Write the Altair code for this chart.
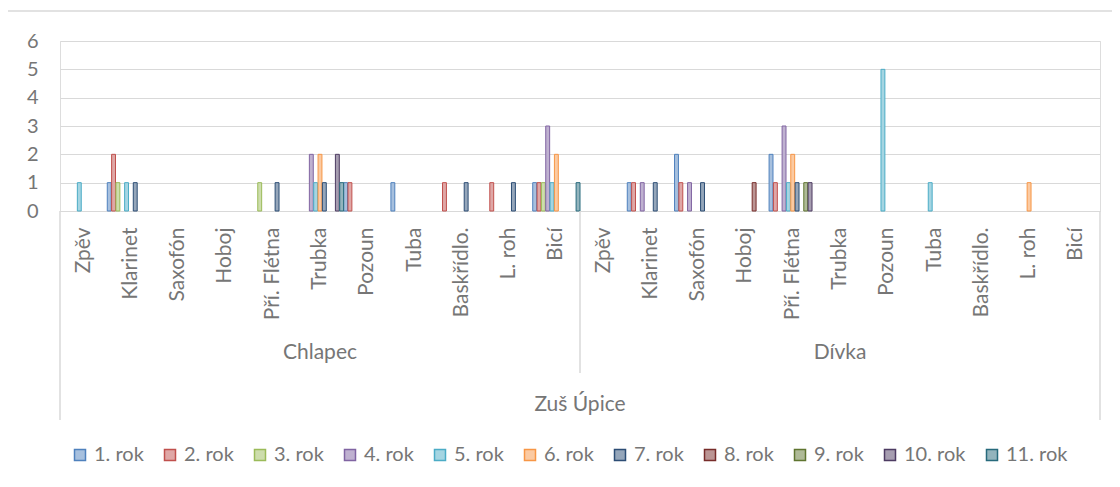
import altair as alt
import pandas as pd

groups = ["Chlapec", "Dívka"]
instruments = ["Zpěv", "Klarinet", "Saxofón", "Hoboj", "Pří. Flétna", "Trubka",
               "Pozoun", "Tuba", "Baskřídlo.", "L. roh", "Bicí"]
school = "Zuš Úpice"
series = ["1. rok", "2. rok", "3. rok", "4. rok", "5. rok", "6. rok",
          "7. rok", "8. rok", "9. rok", "10. rok", "11. rok"]

# values per series: 11 Chlapec instruments followed by 11 Dívka instruments
rok1 = [0, 1, 0, 0, 0, 0, 1, 1, 0, 0, 1,   0, 1, 2, 0, 2, 0, 0, 0, 0, 0, 0]
rok2 = [0, 2, 0, 0, 0, 0, 1, 0, 1, 1, 1,   0, 1, 1, 0, 1, 0, 0, 0, 0, 0, 0]
rok3 = [0, 1, 0, 0, 1, 0, 0, 0, 0, 0, 1,   0, 0, 0, 0, 0, 0, 0, 0, 0, 0, 0]
rok4 = [0, 0, 0, 0, 0, 2, 0, 0, 0, 0, 3,   0, 1, 1, 0, 3, 0, 0, 0, 0, 0, 0]
rok5 = [1, 1, 0, 0, 0, 1, 0, 0, 0, 0, 1,   0, 0, 0, 0, 1, 0, 5, 1, 0, 0, 0]
rok6 = [0, 0, 0, 0, 0, 2, 0, 0, 0, 0, 2,   0, 0, 0, 0, 2, 0, 0, 0, 0, 1, 0]
rok7 = [0, 1, 0, 0, 1, 1, 0, 0, 1, 1, 0,   0, 1, 1, 0, 1, 0, 0, 0, 0, 0, 0]
rok8 = [0, 0, 0, 0, 0, 0, 0, 0, 0, 0, 0,   0, 0, 0, 1, 0, 0, 0, 0, 0, 0, 0]
rok9 = [0, 0, 0, 0, 0, 0, 0, 0, 0, 0, 0,   0, 0, 0, 0, 1, 0, 0, 0, 0, 0, 0]
rok10 = [0, 0, 0, 0, 0, 2, 0, 0, 0, 0, 0,  0, 0, 0, 0, 1, 0, 0, 0, 0, 0, 0]
rok11 = [0, 0, 0, 0, 0, 1, 0, 0, 0, 0, 1,  0, 0, 0, 0, 0, 0, 0, 0, 0, 0, 0]
all_values = [rok1, rok2, rok3, rok4, rok5, rok6, rok7, rok8, rok9, rok10, rok11]

dark = ["#4F81BD", "#C0504D", "#9BBB59", "#8064A2", "#4BACC6", "#F79646",
        "#2C4D75", "#772C2A", "#5F7530", "#4D3B62", "#276A7C"]


def lighten(h, t=0.5):
    r, g, b = int(h[1:3], 16), int(h[3:5], 16), int(h[5:7], 16)
    r, g, b = [int(c + (255 - c) * t) for c in (r, g, b)]
    return "#%02x%02x%02x" % (r, g, b)


light = [lighten(c, 0.5) for c in dark]

keys = [g + "|" + i for g in groups for i in instruments]
rows = []
for s, vals in zip(series, all_values):
    for k, v in zip(keys, vals):
        if v > 0:
            rows.append({"key": k, "series": s, "value": v})
df = pd.DataFrame(rows)

W, H = 1040, 170
PAD_R = 12
GRAY = "#767676"
GRID = "#d9d9d9"
FONT = "Lato"

xscale = alt.Scale(domain=keys, paddingInner=0, paddingOuter=0)
xaxis = alt.Axis(title=None, labelAngle=270, labelAlign="right", labelBaseline="middle",
                 labelExpr="split(datum.label, '|')[1]", labelFontSize=21,
                 labelColor=GRAY, labelFont=FONT, labelPadding=16, ticks=False,
                 domainColor=GRID, labelOverlap=False)

legend = alt.Legend(title=None, orient="none", legendX=10, legendY=404,
                    direction="horizontal", columns=11, symbolType="square",
                    symbolSize=121, symbolStrokeWidth=1.5, labelFontSize=20,
                    labelColor=GRAY, labelFont=FONT, columnPadding=16, labelOffset=4)

bars = alt.Chart(df).mark_bar(strokeWidth=1).encode(
    x=alt.X("key:N", scale=xscale, sort=keys, axis=xaxis),
    xOffset=alt.XOffset("series:N", scale=alt.Scale(domain=series, paddingInner=0.1, paddingOuter=0)),
    y=alt.Y("value:Q", scale=alt.Scale(domain=[0, 6]),
            axis=alt.Axis(title=None, values=[0, 1, 2, 3, 4, 5, 6], grid=True, gridColor=GRID,
                          domain=False, ticks=False, labelFontSize=20, labelColor=GRAY,
                          labelFont=FONT, labelPadding=22)),
    fill=alt.Fill("series:N", scale=alt.Scale(domain=series, range=light), legend=legend),
    stroke=alt.Stroke("series:N", scale=alt.Scale(domain=series, range=dark), legend=legend),
)

grp_df = pd.DataFrame({"key": [g + "|" + instruments[5] for g in groups], "label": groups})
grp_text = alt.Chart(grp_df).mark_text(fontSize=21, color=GRAY, font=FONT, baseline="middle").encode(
    x=alt.X("key:N", scale=xscale, sort=keys, axis=xaxis),
    y=alt.value(312),
    text="label:N",
)

school_df = pd.DataFrame({"label": [school]})
school_text = alt.Chart(school_df).mark_text(fontSize=21, color=GRAY, font=FONT, baseline="middle").encode(
    x=alt.value(W / 2), y=alt.value(364), text="label:N")

sep_left = alt.Chart(pd.DataFrame({"key": [keys[0]]})).mark_rule(color=GRID, strokeWidth=1.5).encode(
    x=alt.X("key:N", scale=xscale, sort=keys, axis=xaxis, bandPosition=0),
    y=alt.value(H), y2=alt.value(H + 209))
sep_mid = alt.Chart(pd.DataFrame({"key": [keys[11]]})).mark_rule(color=GRID, strokeWidth=1.5).encode(
    x=alt.X("key:N", scale=xscale, sort=keys, axis=xaxis, bandPosition=0),
    y=alt.value(H), y2=alt.value(H + 162))
sep_right = alt.Chart(pd.DataFrame({"key": [keys[-1]]})).mark_rule(color=GRID, strokeWidth=1.5).encode(
    x=alt.X("key:N", scale=xscale, sort=keys, axis=xaxis, bandPosition=1),
    y=alt.value(H), y2=alt.value(H + 209))

frame_top = alt.Chart(school_df).mark_rule(color=GRID, strokeWidth=1.5).encode(
    x=alt.value(-53), x2=alt.value(W + PAD_R), y=alt.value(-30))
frame_left = alt.Chart(school_df).mark_rule(color=GRID, strokeWidth=1.5).encode(
    x=alt.value(-53), y=alt.value(-30), y2=alt.value(H + 276))

chart = alt.layer(frame_top, frame_left, bars, sep_left, sep_mid, sep_right, grp_text, school_text).properties(
    width=W, height=H,
    padding={"left": 52, "top": 33, "right": PAD_R, "bottom": 276},
    autosize=alt.AutoSizeParams(type="none"),
).configure_view(stroke=None).configure(font=FONT)

chart.save("out.html", embed_options={"renderer": "svg", "actions": False})
